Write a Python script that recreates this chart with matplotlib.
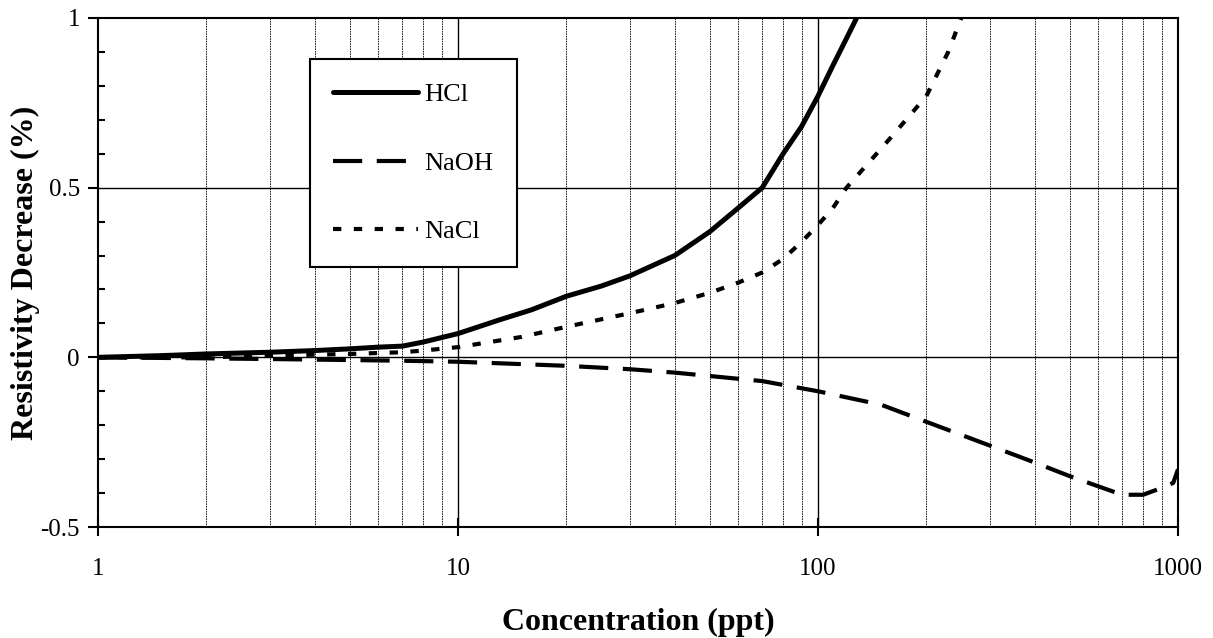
import matplotlib.pyplot as plt
from matplotlib.ticker import FixedLocator, NullFormatter, MultipleLocator

plt.rcParams["font.family"] = ["Liberation Serif", "DejaVu Serif"]

# HCl (solid)
hcl_conc = [1, 1.5, 2, 3, 4, 5, 6, 7, 8, 10, 13, 16, 20, 25, 30, 40, 50,
            60, 70, 80, 90, 100, 110, 120, 128]
hcl_vals = [0, 0.005, 0.01, 0.015, 0.02, 0.025, 0.03, 0.033, 0.045, 0.07,
            0.11, 0.14, 0.18, 0.21, 0.24, 0.30, 0.37, 0.44, 0.50, 0.60, 0.68,
            0.77, 0.86, 0.94, 1.0]

# NaOH (dashed)
naoh_conc = [1, 2, 3, 5, 7, 10, 15, 20, 30, 40, 50, 70, 100, 150, 200, 300,
             400, 500, 600, 700, 800, 900, 970, 1000]
naoh_vals = [0, -0.003, -0.005, -0.008, -0.01, -0.013, -0.02, -0.025, -0.035,
             -0.045, -0.055, -0.07, -0.1, -0.14, -0.19, -0.26, -0.31, -0.35,
             -0.38, -0.405, -0.405, -0.385, -0.37, -0.33]

# NaCl (dotted)
nacl_conc = [1, 2, 3, 5, 7, 8, 10, 15, 20, 30, 40, 50, 60, 70, 80, 90, 100,
             110, 120, 140, 160, 200, 230, 250]
nacl_vals = [0, 0, 0.005, 0.01, 0.015, 0.02, 0.03, 0.06, 0.09, 0.13, 0.16,
             0.19, 0.22, 0.25, 0.29, 0.34, 0.39, 0.44, 0.50, 0.58, 0.65, 0.77,
             0.90, 1.0]

x_ticks = [1, 10, 100, 1000]
x_labels = ["1", "10", "100", "1000"]
y_ticks = [-0.5, 0, 0.5, 1]
y_labels = ["-0.5", "0", "0.5", "1"]

fig = plt.figure(figsize=(12.13, 6.38), dpi=100)
ax = fig.add_axes([98 / 1213, 1 - 527 / 638, 1080 / 1213, 509 / 638])

ax.set_xscale("log")
ax.set_xlim(1, 1000)
ax.set_ylim(-0.5, 1)

# grid
minor_x = [m * d for d in (1, 10, 100) for m in range(2, 10)]
for xv in minor_x:
    ax.axvline(xv, color="black", lw=0.6, ls=(0, (2, 1)), zorder=1)
for xv in (10, 100):
    ax.axvline(xv, color="black", lw=1.0, zorder=1)
for yv in (0, 0.5):
    ax.axhline(yv, color="black", lw=1.0, zorder=1)

ax.plot(hcl_conc, hcl_vals, color="black", lw=3.6, label="HCl",
        solid_capstyle="round", zorder=3)
ax.plot(naoh_conc, naoh_vals, color="black", lw=3.0, ls=(0, (7, 3.5)),
        label="NaOH", zorder=3)
ax.plot(nacl_conc, nacl_vals, color="black", lw=3.0, ls=(0, (2, 3)),
        label="NaCl", zorder=3)

ax.xaxis.set_major_locator(FixedLocator(x_ticks))
ax.set_xticklabels(x_labels)
ax.xaxis.set_minor_locator(FixedLocator(minor_x))
ax.xaxis.set_minor_formatter(NullFormatter())
ax.yaxis.set_major_locator(FixedLocator(y_ticks))
ax.set_yticklabels(y_labels)
ax.yaxis.set_minor_locator(MultipleLocator(0.1))

ax.tick_params(axis="x", which="major", direction="inout", length=13,
               width=1.5, labelsize=18, pad=16)
ax.tick_params(axis="x", which="minor", length=0)
ax.tick_params(axis="y", which="major", direction="out", length=7,
               width=1.5, labelsize=18, pad=6)
ax.tick_params(axis="y", which="minor", direction="in", length=5, width=1.5)

for sp in ax.spines.values():
    sp.set_linewidth(1.5)

ax.set_xlabel("Concentration (ppt)", fontsize=23, fontweight="bold",
              labelpad=20)
ax.set_ylabel("Resistivity Decrease (%)", fontsize=23, fontweight="bold",
              labelpad=0)

leg = ax.legend(loc="upper left", bbox_to_anchor=(0.196, 0.919),
                borderaxespad=0, fontsize=19, frameon=True, fancybox=False,
                edgecolor="black", framealpha=1, handlelength=3.2,
                handletextpad=0.25, labelspacing=1.7, borderpad=0.9)
leg.get_frame().set_linewidth(1.5)
leg.set_zorder(5)

fig.savefig("out.png", dpi=100)
